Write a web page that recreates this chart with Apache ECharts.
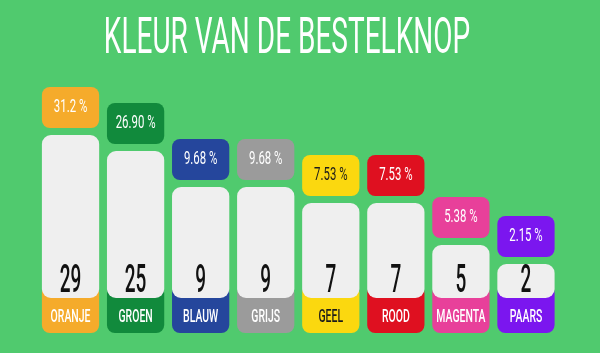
<!DOCTYPE html>
<html>
<head>
<meta charset="utf-8">
<script src="https://cdn.jsdelivr.net/npm/echarts@6/dist/echarts.min.js"></script>
<style>
html,body{margin:0;padding:0;background:#50ca6e;}
#chart{width:600px;height:353px;}
</style>
</head>
<body>
<div id="chart"></div>
<script>
const categories = ['ORANJE', 'GROEN', 'BLAUW', 'GRIJS', 'GEEL', 'ROOD', 'MAGENTA', 'PAARS'];
const counts = [29, 25, 9, 9, 7, 7, 5, 2];
const percentLabels = ['31.2 %', '26.90 %', '9.68 %', '9.68 %', '7.53 %', '7.53 %', '5.38 %', '2.15 %'];
// visual bar heights as drawn in the infographic (not proportional to counts)
const barHeights = [198, 182, 146, 146, 130, 130, 88, 69];
const boxColors = ['#f5ab2b', '#118a3c', '#25469c', '#9b9b9b', '#fbd80f', '#df1020', '#e8409a', '#7b16ef'];
const textColors = ['#ffffff', '#ffffff', '#ffffff', '#ffffff', '#1b1b1b', '#ffffff', '#ffffff', '#ffffff'];
const pctTextColors = ['#ffffff', '#ffffff', '#ffffff', '#ffffff', '#1b1b1b', '#ffffff', '#ffffff', '#ffffff'];

const chart = echarts.init(document.getElementById('chart'));
const FONT = 'Roboto';

function renderItem(params, api) {
  const idx = params.dataIndex;
  const i = api.value(0);
  const h = api.value(1);
  const base = api.coord([i, 0]);
  const top = api.coord([i, h]);
  const w = api.size([1, 0])[0] * 0.88;
  const x0 = base[0] - w / 2;
  const cx = base[0];
  const whiteBottom = base[1] - 35;
  return {
    type: 'group',
    children: [
      { type: 'rect', shape: { x: x0, y: base[1] - 48, width: w, height: 48, r: 8 }, style: { fill: boxColors[idx] } },
      { type: 'rect', shape: { x: x0, y: top[1], width: w, height: whiteBottom - top[1], r: 9 }, style: { fill: '#efefef' } },
      { type: 'rect', shape: { x: x0, y: top[1] - 48, width: w, height: 41, r: 8 }, style: { fill: boxColors[idx] } },
      { type: 'text', x: cx, y: base[1] - 16, scaleX: 0.55,
        style: { text: categories[idx], x: 0, y: 0, align: 'center', verticalAlign: 'middle', fill: textColors[idx], font: '500 19px ' + FONT } },
      { type: 'text', x: cx, y: whiteBottom - 16, scaleX: 0.5,
        style: { text: String(counts[idx]), x: 0, y: 0, align: 'center', verticalAlign: 'middle', fill: '#111111', font: '500 38px ' + FONT } },
      { type: 'text', x: cx, y: top[1] - 27.5, scaleX: 0.6,
        style: { text: percentLabels[idx], x: 0, y: 0, align: 'center', verticalAlign: 'middle', fill: pctTextColors[idx], font: '400 19px ' + FONT } }
    ]
  };
}

chart.setOption({
  backgroundColor: '#50ca6e',
  animation: false,
  grid: { left: 38, right: 41.5, top: 133, bottom: 20 },
  xAxis: { type: 'category', data: categories, show: false },
  yAxis: { type: 'value', min: 0, max: 200, show: false },
  graphic: [
    { type: 'text', x: 287, y: 40, scaleX: 0.56,
      style: { text: 'KLEUR VAN DE BESTELKNOP', x: 0, y: 0, align: 'center', verticalAlign: 'middle', fill: '#ffffff', font: '400 50px ' + FONT } }
  ],
  series: [{
    type: 'custom',
    renderItem: renderItem,
    data: categories.map((c, i) => [i, barHeights[i]])
  }]
});
</script>
</body>
</html>
